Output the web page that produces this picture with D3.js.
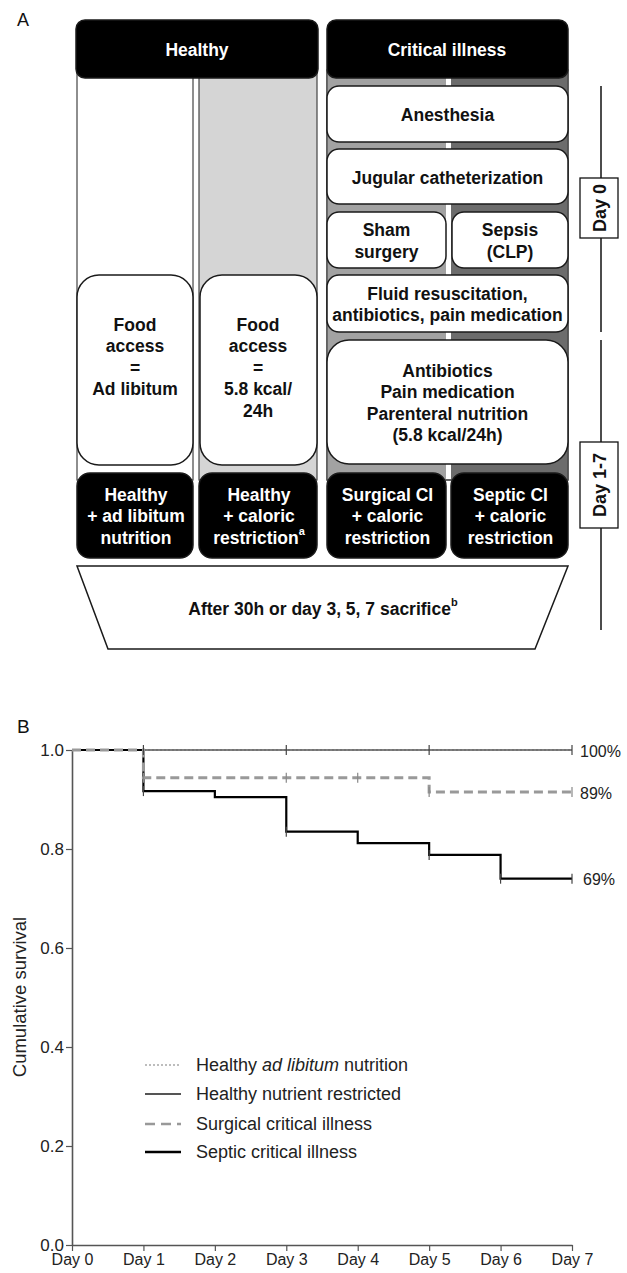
<!DOCTYPE html>
<html>
<head>
<meta charset="utf-8">
<script src="https://cdn.jsdelivr.net/npm/d3@7"></script>
<style>
  body { margin: 0; background: #fff; }
  svg { display: block; font-family: "Liberation Sans", Arial, sans-serif; }
</style>
</head>
<body>
<div id="chart"></div>
<script>
// ---- panel A texts ----
var headerLabels = ["Healthy", "Critical illness"];
var foodAccessLabels = [["Food", "access", "=", "Ad libitum"], ["Food", "access", "=", "5.8 kcal/", "24h"]];
var procedureLabels = [["Anesthesia"], ["Jugular catheterization"], ["Sham", "surgery"], ["Sepsis", "(CLP)"],
    ["Fluid resuscitation,", "antibiotics, pain medication"],
    ["Antibiotics", "Pain medication", "Parenteral nutrition", "(5.8 kcal/24h)"]];
var groupLabels = [["Healthy", "+ ad libitum", "nutrition"], ["Healthy", "+ caloric", "restriction^a"],
    ["Surgical CI", "+ caloric", "restriction"], ["Septic CI", "+ caloric", "restriction"]];
var phaseLabels = ["Day 0", "Day 1-7"];
var sacrificeLabel = "After 30h or day 3, 5, 7 sacrifice^b";

// ---- panel B data ----
var dayValues = [0, 1, 2, 3, 4, 5, 6, 7];
var dayLabels = ["Day 0", "Day 1", "Day 2", "Day 3", "Day 4", "Day 5", "Day 6", "Day 7"];
var survivalTicks = [0, 0.2, 0.4, 0.6, 0.8, 1.0];

var seriesNames = ["Healthy ad libitum nutrition", "Healthy nutrient restricted", "Surgical critical illness", "Septic critical illness"];

var adLibTimes = [0, 7];
var adLibSurv = [1, 1];
var adLibCensor = [];

var restrictedTimes = [0, 7];
var restrictedSurv = [1, 1];
var restrictedCensor = [1, 3, 5, 7];

var surgicalTimes = [0, 1, 5, 7];
var surgicalSurv = [1, 0.944, 0.915, 0.915];
var surgicalCensor = [1, 3, 4, 5, 7];

var septicTimes = [0, 1, 2, 3, 4, 5, 6, 7];
var septicSurv = [1, 0.917, 0.905, 0.835, 0.812, 0.788, 0.74, 0.74];
var septicCensor = [1, 3, 5, 6, 7];

var endLabels = ["100%", "89%", "69%"];

var W = 627, H = 1273;
var svg = d3.select("#chart").append("svg").attr("width", W).attr("height", H);

var boldFont = 17.5, lineH = 21.5;

function addLines(g, lines, cx, cy, color) {
    var n = lines.length;
    lines.forEach(function (line, i) {
        var t = g.append("text")
            .attr("x", cx)
            .attr("y", cy + (i - (n - 1) / 2) * lineH)
            .attr("text-anchor", "middle")
            .attr("dominant-baseline", "central")
            .style("font-weight", "bold")
            .style("font-size", boldFont + "px")
            .style("fill", color);
        var parts = line.split("^");
        t.append("tspan").text(parts[0]);
        if (parts[1]) {
            t.append("tspan").attr("dy", -7).style("font-size", "11px").text(parts[1]);
        }
    });
}

function roundBox(g, x0, y0, x1, y1, r, fill) {
    return g.append("rect")
        .attr("x", x0).attr("y", y0)
        .attr("width", x1 - x0).attr("height", y1 - y0)
        .attr("rx", r).attr("ry", r)
        .style("fill", fill)
        .style("stroke", "#1a1a1a")
        .style("stroke-width", 1.5);
}

// ================= PANEL A =================
var a = svg.append("g");

a.append("text").attr("x", 17).attr("y", 26).text("A")
    .style("font-size", "18px").style("fill", "#111");

// column x extents
var cols = [[77, 193], [199, 317], [327, 446], [451, 568]];
var colTop = 70, colBottom = 480;

// healthy columns
a.append("rect").attr("x", cols[0][0]).attr("y", colTop).attr("width", cols[0][1] - cols[0][0]).attr("height", colBottom - colTop)
    .style("fill", "#fff").style("stroke", "#444").style("stroke-width", 1.2);
a.append("rect").attr("x", cols[1][0]).attr("y", colTop).attr("width", cols[1][1] - cols[1][0]).attr("height", colBottom - colTop)
    .style("fill", "#d5d5d5").style("stroke", "#444").style("stroke-width", 1.2);

// critical illness background (two shades with white strip)
a.append("rect").attr("x", cols[2][0]).attr("y", colTop).attr("width", cols[3][1] - cols[2][0]).attr("height", colBottom - colTop)
    .style("fill", "#fff").style("stroke", "#444").style("stroke-width", 1.2);
a.append("rect").attr("x", cols[2][0]).attr("y", colTop).attr("width", cols[2][1] - cols[2][0]).attr("height", colBottom - colTop)
    .style("fill", "#a2a2a2");
a.append("rect").attr("x", cols[3][0]).attr("y", colTop).attr("width", cols[3][1] - cols[3][0]).attr("height", colBottom - colTop)
    .style("fill", "#6c6c6c");
a.append("rect").attr("x", cols[2][0]).attr("y", colTop).attr("width", cols[3][1] - cols[2][0]).attr("height", colBottom - colTop)
    .style("fill", "none").style("stroke", "#444").style("stroke-width", 1.2);

// headers
roundBox(a, 76, 20, 318, 78, 9, "#000");
roundBox(a, 327, 20, 568, 78, 9, "#000");
addLines(a, [headerLabels[0]], 197, 50, "#fff");
addLines(a, [headerLabels[1]], 447, 50, "#fff");

// food access boxes
roundBox(a, cols[0][0], 275, cols[0][1], 465, 22, "#fff");
roundBox(a, cols[1][0] + 1, 275, cols[1][1], 465, 22, "#fff");
addLines(a, foodAccessLabels[0], (cols[0][0] + cols[0][1]) / 2, 357, "#111");
addLines(a, foodAccessLabels[1], (cols[1][0] + cols[1][1]) / 2, 367.5, "#111");

// critical illness procedure boxes
var pr = [
    [cols[2][0], 86, cols[3][1], 142],
    [cols[2][0], 149, cols[3][1], 204],
    [cols[2][0], 212, cols[2][1], 268],
    [cols[3][0] + 1, 212, cols[3][1], 268],
    [cols[2][0], 275, cols[3][1], 332],
    [cols[2][0], 340, cols[3][1], 464]
];
procedureLabels.forEach(function (lines, i) {
    var b = pr[i];
    roundBox(a, b[0], b[1], b[2], b[3], i == 5 ? 22 : 12, "#fff");
    addLines(a, lines, (b[0] + b[2]) / 2, (b[1] + b[3]) / 2 + 1, "#111");
});

// group boxes (black)
groupLabels.forEach(function (lines, i) {
    var c = cols[i];
    roundBox(a, c[0], 473, c[1], 558, 13, "#000");
    addLines(a, lines, (c[0] + c[1]) / 2 + 1, 516, "#fff");
});

// sacrifice trapezoid
a.append("polygon")
    .attr("points", [[77, 566], [568, 566], [535, 649], [108, 649]].map(function (p) { return p.join(","); }).join(" "))
    .style("fill", "#fff").style("stroke", "#1a1a1a").style("stroke-width", 1.5);
addLines(a, [sacrificeLabel], 323, 609, "#111");

// timeline on the right
a.append("line").attr("x1", 601).attr("x2", 601).attr("y1", 86).attr("y2", 332)
    .style("stroke", "#111").style("stroke-width", 1.5);
a.append("line").attr("x1", 601).attr("x2", 601).attr("y1", 340).attr("y2", 630)
    .style("stroke", "#111").style("stroke-width", 1.5);
var phaseBoxes = [[178, 238], [442, 528]];
phaseLabels.forEach(function (lab, i) {
    var pb = phaseBoxes[i];
    a.append("rect").attr("x", 580).attr("y", pb[0]).attr("width", 38).attr("height", pb[1] - pb[0])
        .style("fill", "#fff").style("stroke", "#111").style("stroke-width", 1.3);
    a.append("text")
        .attr("transform", "translate(600," + ((pb[0] + pb[1]) / 2) + ") rotate(-90)")
        .attr("text-anchor", "middle").attr("dominant-baseline", "central")
        .style("font-weight", "bold").style("font-size", "18px").style("fill", "#111")
        .text(lab);
});

// ================= PANEL B =================
var b = svg.append("g");

b.append("text").attr("x", 17).attr("y", 733).text("B")
    .style("font-size", "19px").style("fill", "#111");

var x = d3.scaleLinear().domain([0, 7]).range([72, 572]);
var y = d3.scaleLinear().domain([0, 1]).range([1245, 750]);

var yAxis = b.append("g")
    .attr("transform", "translate(72,0)")
    .call(d3.axisLeft(y).tickValues(survivalTicks).tickFormat(d3.format(".1f")).tickSize(6).tickSizeOuter(0).tickPadding(2));
var xAxis = b.append("g")
    .attr("transform", "translate(0,1245)")
    .call(d3.axisBottom(x).tickValues(dayValues).tickFormat(function (d, i) { return dayLabels[i]; }).tickSize(6).tickSizeOuter(0).tickPadding(3));

[yAxis, xAxis].forEach(function (ax) {
    ax.select(".domain").style("stroke", "#555").style("stroke-width", 1.6);
    ax.selectAll(".tick line").style("stroke", "#555").style("stroke-width", 1.2);
    ax.selectAll(".tick text").style("fill", "#222").style("font-family", "Liberation Sans, Arial, sans-serif");
});
yAxis.selectAll(".tick text").style("font-size", "17px");
xAxis.selectAll(".tick text").style("font-size", "16px");

b.append("text")
    .attr("transform", "translate(19,997) rotate(-90)")
    .attr("text-anchor", "middle").attr("dominant-baseline", "central")
    .style("font-size", "18.5px").style("fill", "#222")
    .text("Cumulative survival");

var styles = [
    { color: "#bdbdbd", width: 1.5, dash: "2,2" },
    { color: "#555", width: 1.6, dash: null },
    { color: "#999", width: 3, dash: "9,5" },
    { color: "#000", width: 2.2, dash: null }
];
var series = [
    { t: adLibTimes, s: adLibSurv, c: adLibCensor },
    { t: restrictedTimes, s: restrictedSurv, c: restrictedCensor },
    { t: surgicalTimes, s: surgicalSurv, c: surgicalCensor },
    { t: septicTimes, s: septicSurv, c: septicCensor }
];

var step = d3.line()
    .x(function (d) { return x(d[0]); })
    .y(function (d) { return y(d[1]); })
    .curve(d3.curveStepAfter);

function survAt(sr, t) {
    var v = sr.s[0];
    for (var i = 0; i < sr.t.length; i++) {
        if (sr.t[i] <= t) v = sr.s[i];
    }
    return v;
}

// draw order: ad lib, restricted, septic, surgical on top
[0, 1, 3, 2].forEach(function (k) {
    var sr = series[k], st = styles[k];
    var pts = sr.t.map(function (t, i) { return [t, sr.s[i]]; });
    b.append("path")
        .attr("d", step(pts))
        .style("fill", "none")
        .style("stroke", st.color)
        .style("stroke-width", st.width)
        .style("stroke-dasharray", st.dash);
});

// censor ticks
[1, 2, 3].forEach(function (k) {
    var sr = series[k];
    b.selectAll(null).data(sr.c).enter().append("line")
        .attr("x1", function (d) { return x(d); })
        .attr("x2", function (d) { return x(d); })
        .attr("y1", function (d) { return y(survAt(sr, d)) - 5; })
        .attr("y2", function (d) { return y(survAt(sr, d)) + 5; })
        .style("stroke", k == 2 ? "#888" : "#444")
        .style("stroke-width", 1.2);
});

// end labels
[1, 2, 3].forEach(function (k, i) {
    var sr = series[k];
    b.append("text")
        .attr("x", x(7) + (k == 3 ? 11 : 8))
        .attr("y", y(sr.s[sr.s.length - 1]) + 1)
        .attr("dominant-baseline", "central")
        .style("font-size", "16px").style("fill", "#222")
        .text(endLabels[i]);
});

// legend
var legendRows = [1065, 1094, 1124, 1152];
seriesNames.forEach(function (name, k) {
    var st = styles[k];
    b.append("line")
        .attr("x1", 145).attr("x2", 181)
        .attr("y1", legendRows[k]).attr("y2", legendRows[k])
        .style("stroke", st.color)
        .style("stroke-width", k == 2 ? 2.5 : st.width + 0.4)
        .style("stroke-dasharray", k == 2 ? "10,6" : st.dash);
    var t = b.append("text")
        .attr("x", 196).attr("y", legendRows[k])
        .attr("dominant-baseline", "central")
        .style("font-size", "18px").style("fill", "#222");
    if (k == 0) {
        t.append("tspan").text("Healthy ");
        t.append("tspan").style("font-style", "italic").text("ad libitum");
        t.append("tspan").text(" nutrition");
    } else {
        t.text(name);
    }
});
</script>
</body>
</html>
